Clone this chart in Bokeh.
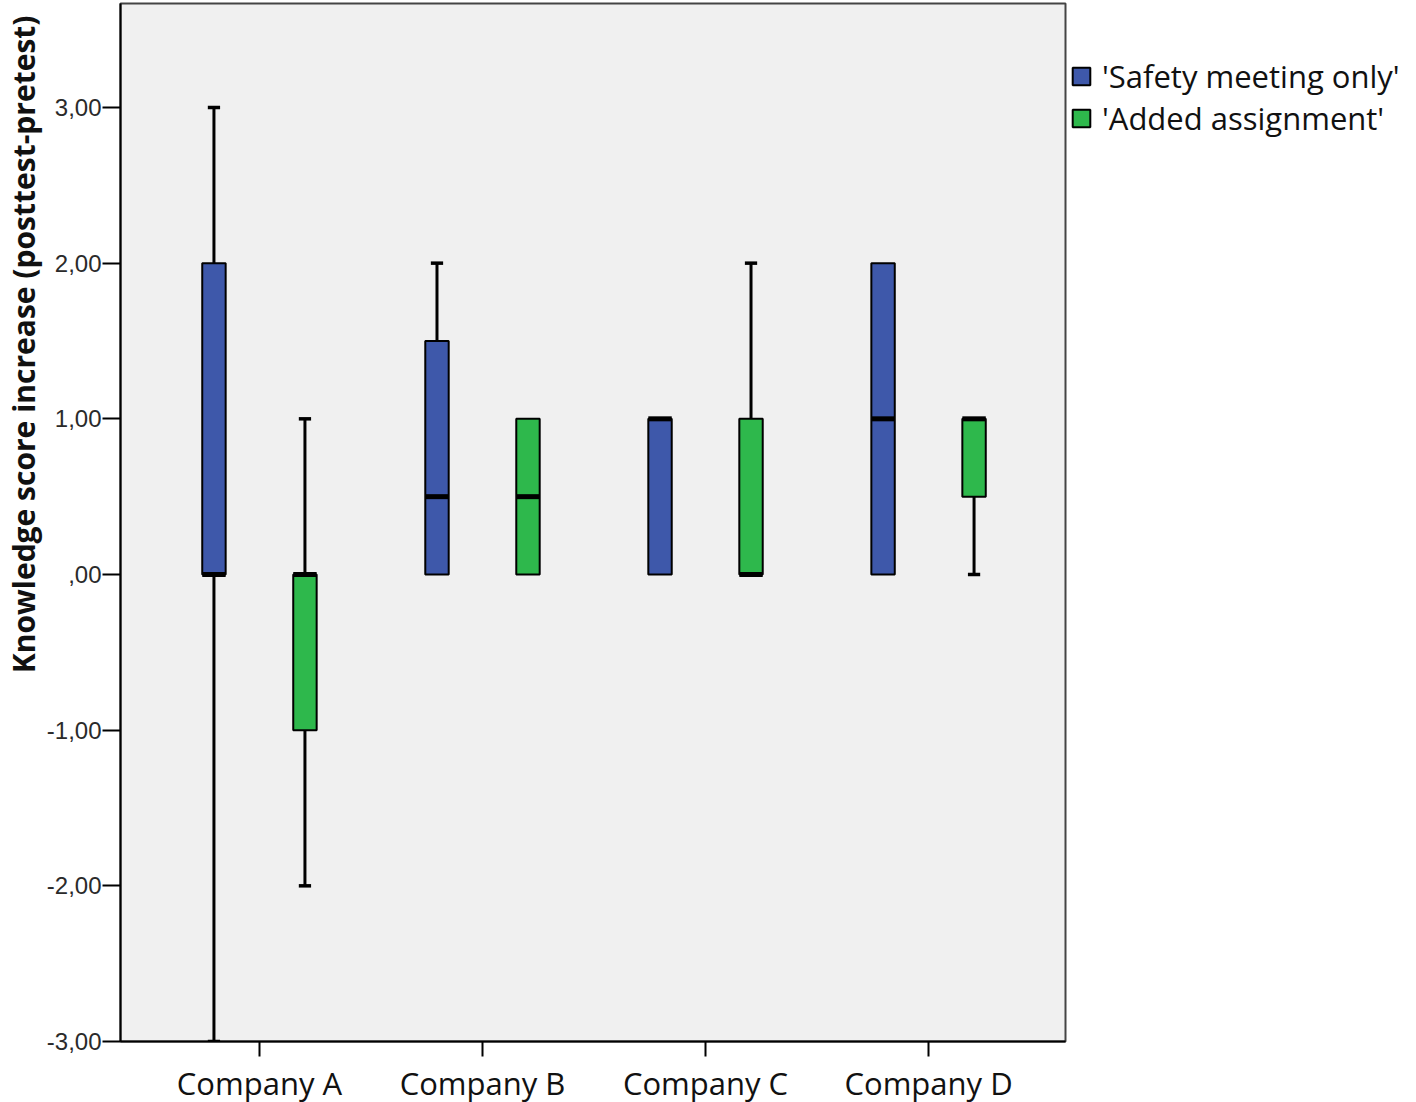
from bokeh.plotting import figure
from bokeh.models import ColumnDataSource, Range1d, FixedTicker, Legend, LegendItem, Title
from bokeh.transform import dodge
from bokeh.embed import file_html
from bokeh.resources import INLINE

# ---- data ----
companies = ["Company A", "Company B", "Company C", "Company D"]
groups = ["'Safety meeting only'", "'Added assignment'"]
safety_low = [-3, 0, 0, 0]
safety_q1 = [0, 0, 0, 0]
safety_med = [0, 0.5, 1, 1]
safety_q3 = [2, 1.5, 1, 2]
safety_high = [3, 2, 1, 2]
added_low = [-2, 0, 0, 0]
added_q1 = [-1, 0, 0, 0.5]
added_med = [0, 0.5, 0, 1]
added_q3 = [0, 1, 1, 1]
added_high = [1, 1, 2, 1]
y_ticks = [-3, -2, -1, 0, 1, 2, 3]
y_tick_labels = ["-3,00", "-2,00", "-1,00", ",00", "1,00", "2,00", "3,00"]
y_title = "Knowledge score increase (posttest-pretest)"

colors = ["#3E58AA", "#2EB84C"]
offsets = [-0.204, 0.204]
BW = 0.105
CW = 0.055

p = figure(frame_width=945, frame_height=1038, output_backend="svg", toolbar_location=None,
           x_range=Range1d(0.377, 4.614), y_range=Range1d(-3, 3.668),
           min_border_left=118, min_border_right=0, min_border_top=3, min_border_bottom=0)
p.background_fill_color = "#F0F0F0"
p.border_fill_color = "white"
p.outline_line_color = "#444444"
p.outline_line_width = 2
p.xgrid.visible = False
p.ygrid.visible = False

pos = list(range(1, len(companies) + 1))
series = [
    (safety_low, safety_q1, safety_med, safety_q3, safety_high),
    (added_low, added_q1, added_med, added_q3, added_high),
]

box_renderers = []
for gi, (low, q1, med, q3, high) in enumerate(series):
    off = offsets[gi]
    src = ColumnDataSource(dict(pos=pos, low=low, q1=q1, med=med, q3=q3, high=high))
    up = [i for i in range(len(pos)) if high[i] > q3[i]]
    dn = [i for i in range(len(pos)) if low[i] < q1[i]]
    up_src = ColumnDataSource(dict(pos=[pos[i] for i in up], a=[q3[i] for i in up], b=[high[i] for i in up]))
    dn_src = ColumnDataSource(dict(pos=[pos[i] for i in dn], a=[q1[i] for i in dn], b=[low[i] for i in dn]))
    for s in (up_src, dn_src):
        p.segment(x0=dodge('pos', off, range=p.x_range), x1=dodge('pos', off, range=p.x_range),
                  y0='a', y1='b', source=s, line_color="black", line_width=3)
        p.segment(x0=dodge('pos', off - CW / 2, range=p.x_range), x1=dodge('pos', off + CW / 2, range=p.x_range),
                  y0='b', y1='b', source=s, line_color="black", line_width=3.5)
    r = p.vbar(x=dodge('pos', off, range=p.x_range), width=BW, bottom='q1', top='q3', source=src,
               fill_color=colors[gi], line_color="black", line_width=2)
    box_renderers.append(r)
    p.segment(x0=dodge('pos', off - BW / 2, range=p.x_range), x1=dodge('pos', off + BW / 2, range=p.x_range),
              y0='med', y1='med', source=src, line_color="black", line_width=5)

# axes
p.xaxis.ticker = FixedTicker(ticks=pos)
p.xaxis.major_label_overrides = {pv: c for pv, c in zip(pos, companies)}
p.xaxis.major_label_text_font = "Open Sans"
p.xaxis.major_label_text_font_size = "31px"
p.xaxis.major_label_text_color = "#111111"
p.xaxis.major_label_standoff = 5
p.xaxis.major_tick_out = 15
p.xaxis.major_tick_in = 0
p.xaxis.major_tick_line_width = 2
p.xaxis.major_tick_line_color = "black"
p.xaxis.minor_tick_line_color = None
p.xaxis.axis_line_color = "black"
p.xaxis.axis_line_width = 2

p.yaxis.ticker = FixedTicker(ticks=y_ticks)
p.yaxis.major_label_overrides = {t: l for t, l in zip(y_ticks, y_tick_labels)}
p.yaxis.major_label_text_font = "Liberation Sans"
p.yaxis.major_label_text_font_size = "24px"
p.yaxis.major_label_text_color = "#2a2a2a"
p.yaxis.major_label_standoff = 1
p.yaxis.major_tick_out = 18
p.yaxis.major_tick_in = 0
p.yaxis.major_tick_line_width = 2
p.yaxis.major_tick_line_color = "black"
p.yaxis.minor_tick_line_color = None
p.yaxis.axis_line_color = "black"
p.yaxis.axis_line_width = 2

# y-axis title, placed toward the top as in the reference
p.add_layout(Title(text=y_title, align="right", offset=12, standoff=0,
                   text_font="Open Sans", text_font_style="bold",
                   text_font_size="30px", text_color="#111111"), "left")

legend = Legend(items=[LegendItem(label=g, renderers=[r]) for g, r in zip(groups, box_renderers)],
                orientation="vertical",
                label_text_font="Open Sans", label_text_font_size="31px", label_text_color="#111111",
                glyph_width=22, glyph_height=22, label_standoff=10, spacing=0,
                padding=0, margin=0, border_line_alpha=0, background_fill_alpha=0)
legend.location = (5, 902)
p.add_layout(legend, "right")

open("out.html", "w").write(file_html(p, INLINE))
